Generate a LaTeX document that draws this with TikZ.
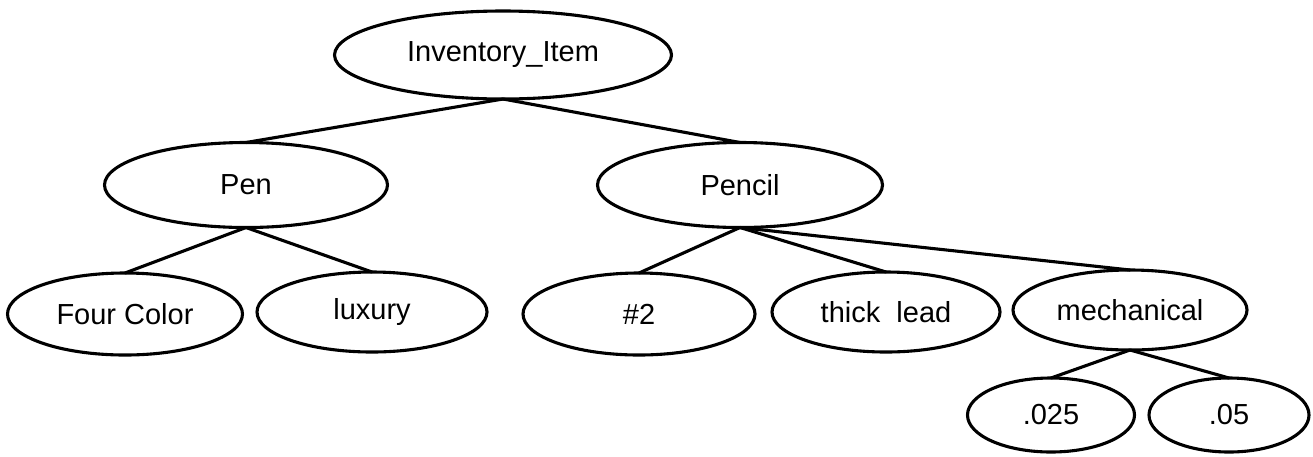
\documentclass[tikz,border=0pt]{standalone}
\usepackage{fontspec}
\setmainfont{Liberation Sans}
\usetikzlibrary{shapes.geometric}
\begin{document}
\begin{tikzpicture}[x=1pt,y=-1pt,
  ent/.style={draw=black,line width=3.1pt,ellipse,inner sep=0pt,outer sep=0pt,
    font=\fontsize{29}{32}\selectfont},
  link/.style={draw=black,line width=3.1pt,line cap=round}]
\useasboundingbox (0,0) rectangle (1313,456);
\node[ent,minimum width=337,minimum height=88] (inv) at (503,55) {Inventory\_Item};
\node[ent,minimum width=283,minimum height=85] (pen) at (246,185) {Pen};
\node[ent,minimum width=285,minimum height=85] (pencil) at (740,185) {Pencil};
\node[ent,minimum width=235,minimum height=82] (four) at (125,314) {Four Color};
\node[ent,minimum width=230,minimum height=80] (lux) at (372,312) {luxury};
\node[ent,minimum width=232,minimum height=82] (two) at (639,314) {\#2};
\node[ent,minimum width=228,minimum height=80] (thick) at (886,312) {thick\ \ lead};
\node[ent,minimum width=234,minimum height=80] (mech) at (1130,310) {mechanical};
\node[ent,minimum width=167,minimum height=74] (a) at (1051,415) {.025};
\node[ent,minimum width=160,minimum height=74] (b) at (1229,415) {.05};
\draw[link] (inv.south) -- (pen.north);
\draw[link] (inv.south) -- (pencil.north);
\draw[link] (pen.south) -- (four.north);
\draw[link] (pen.south) -- (lux.north);
\draw[link] (pencil.south) -- (two.north);
\draw[link] (pencil.south) -- (thick.north);
\draw[link] (pencil.south) -- (mech.north);
\draw[link] (mech.south) -- (a.north);
\draw[link] (mech.south) -- (b.north);
\end{tikzpicture}
\end{document}
